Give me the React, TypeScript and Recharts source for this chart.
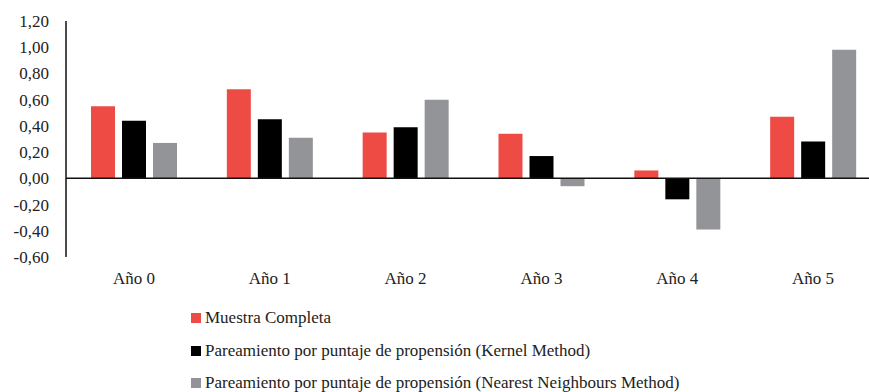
import React from "react";
import { BarChart, Bar, XAxis, YAxis, ReferenceLine } from "recharts";

const categories = ["Año 0", "Año 1", "Año 2", "Año 3", "Año 4", "Año 5"];
const muestraCompleta = [0.55, 0.68, 0.35, 0.34, 0.06, 0.47];
const kernelMethod = [0.44, 0.45, 0.39, 0.17, -0.16, 0.28];
const nearestNeighbours = [0.27, 0.31, 0.6, -0.06, -0.39, 0.98];
const yTicks = [-0.6, -0.4, -0.2, 0, 0.2, 0.4, 0.6, 0.8, 1.0, 1.2];

const seriesNames = [
  "Muestra Completa",
  "Pareamiento por puntaje de propensión (Kernel Method)",
  "Pareamiento por puntaje de propensión (Nearest Neighbours Method)",
];
const seriesColors = ["#EE4B45", "#000000", "#929497"];

const data = categories.map((c, i) => ({
  name: c,
  s0: muestraCompleta[i],
  s1: kernelMethod[i],
  s2: nearestNeighbours[i],
}));

const FONT = "Liberation Serif";

export default function App() {
  return (
    <div
      style={{
        position: "absolute",
        left: 0,
        top: 0,
        width: 869,
        height: 392,
        overflow: "hidden",
        background: "#fff",
        fontFamily: FONT,
      }}
    >
      <BarChart
        width={900}
        height={392}
        data={data}
        margin={{ top: 21, right: 19, left: 6, bottom: 95 }}
        barSize={24}
        barGap={7}
        style={{ fontFamily: FONT }}
      >
        <XAxis
          dataKey="name"
          axisLine={false}
          tickLine={false}
          tickSize={0}
          tickMargin={15}
          height={40}
          interval={0}
          tick={{ fontFamily: FONT, fontSize: 17, fill: "#222" }}
        />
        <YAxis
          domain={[-0.6, 1.2]}
          ticks={yTicks}
          allowDataOverflow
          width={60}
          tickLine={false}
          tickSize={0}
          tickMargin={17}
          axisLine={{ stroke: "#111", strokeWidth: 1.5 }}
          tickFormatter={(v: number) => v.toFixed(2).replace(".", ",")}
          tick={{ fontFamily: FONT, fontSize: 17, fill: "#222" }}
        />
        <ReferenceLine y={0} stroke="#111" strokeWidth={1.5} />
        <Bar dataKey="s0" name={seriesNames[0]} fill={seriesColors[0]} isAnimationActive={false} />
        <Bar dataKey="s1" name={seriesNames[1]} fill={seriesColors[1]} isAnimationActive={false} />
        <Bar dataKey="s2" name={seriesNames[2]} fill={seriesColors[2]} isAnimationActive={false} />
      </BarChart>
      {seriesNames.map((n, i) => (
        <div
          key={n}
          style={{
            position: "absolute",
            left: 191,
            top: 318 + i * 32.5 - 11,
            height: 22,
            display: "flex",
            alignItems: "center",
            fontFamily: FONT,
            fontSize: 17,
            color: "#222",
            whiteSpace: "nowrap",
          }}
        >
          <span
            style={{
              display: "inline-block",
              width: 10,
              height: 10,
              background: seriesColors[i],
              marginRight: 4,
            }}
          />
          {n}
        </div>
      ))}
    </div>
  );
}
